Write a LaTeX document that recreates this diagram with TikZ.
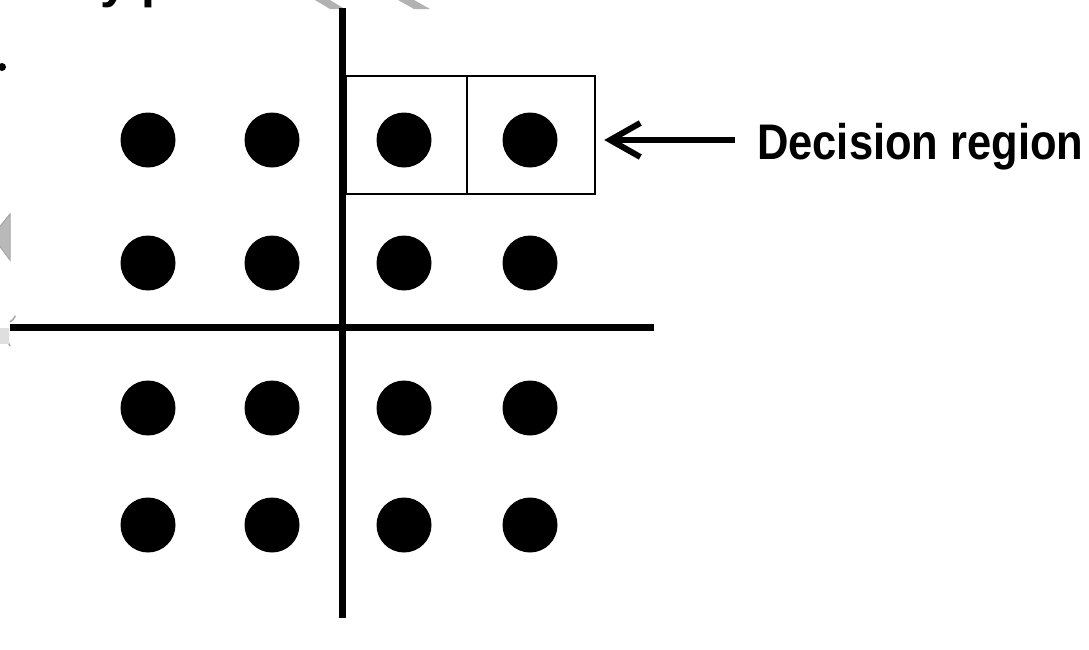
\documentclass[tikz,border=0pt]{standalone}
\usepackage{fontspec}
\setmainfont{Liberation Sans}
\newfontfamily\labfont[FakeStretch=0.87]{Liberation Sans}
\usetikzlibrary{arrows.meta}
\begin{document}
\begin{tikzpicture}[x=1pt,y=-1pt,
  dotstyle/.style={circle,fill=black,minimum size=55pt,inner sep=0pt},
  regbox/.style={draw=black,line width=2.4pt,inner sep=0pt},
  axis/.style={line width=7pt,black},
  arr/.style={line width=6pt,-{Straight Barb[length=30pt,width=34pt,line width=6pt]}},
  ghost/.style={fill=gray!55,draw=gray!70,line width=1pt}]
\useasboundingbox (0,0) rectangle (1089,649);
\begin{scope}
\clip (0,0) rectangle (1089,649);
% fragments of slide content cut off by the crop
\node[anchor=base west,inner sep=0pt,font=\bfseries\fontsize{50}{60}\selectfont] (frag) at (100,-3) {y p};
\fill[gray!60] (315,0) -- (330,0) -- (345,9) -- (330,9) -- cycle;
\fill[gray!60] (398,0) -- (414,0) -- (430,9) -- (414,9) -- cycle;
\filldraw[ghost] (10,214) -- (-8,236) -- (10,260) -- cycle;
\draw[gray!70,line width=1.5pt] (10,322) arc[start angle=60,end angle=20,radius=12];
\draw[gray!70,line width=1.5pt] (10,346) arc[start angle=-20,end angle=-70,radius=14];
\fill[gray!25] (0,328) rectangle (9,344);
\end{scope}
\node[circle,fill=black,minimum size=8pt,inner sep=0pt] (bullet) at (2,67) {};
% axes
\coordinate (vtop) at (342,8);
\coordinate (vbot) at (342,618);
\coordinate (hl) at (10,327);
\coordinate (hr) at (654,327);
\draw[axis] (vtop) -- (vbot);
\draw[axis] (hl) -- (hr);
% decision region boxes
\node[regbox,minimum width=121pt,minimum height=118pt] (box1) at (406.5,135) {};
\node[regbox,minimum width=128pt,minimum height=118pt] (box2) at (531,135) {};
% constellation points
\foreach \r/\y in {1/140,2/263,3/408,4/525}{
  \foreach \c/\x in {1/148,2/272,3/404,4/530}{
    \node[dotstyle] (p\r\c) at (\x,\y) {};
  }
}
% label and arrow
\node[anchor=base west,inner sep=0pt,font=\labfont\bfseries\fontsize{50}{60}\selectfont] (lab) at (757,159) {Decision region};
\coordinate (arrstart) at (735,140);
\draw[arr,shorten >=8pt] (arrstart) -- (box2.east |- arrstart);
\end{tikzpicture}
\end{document}
